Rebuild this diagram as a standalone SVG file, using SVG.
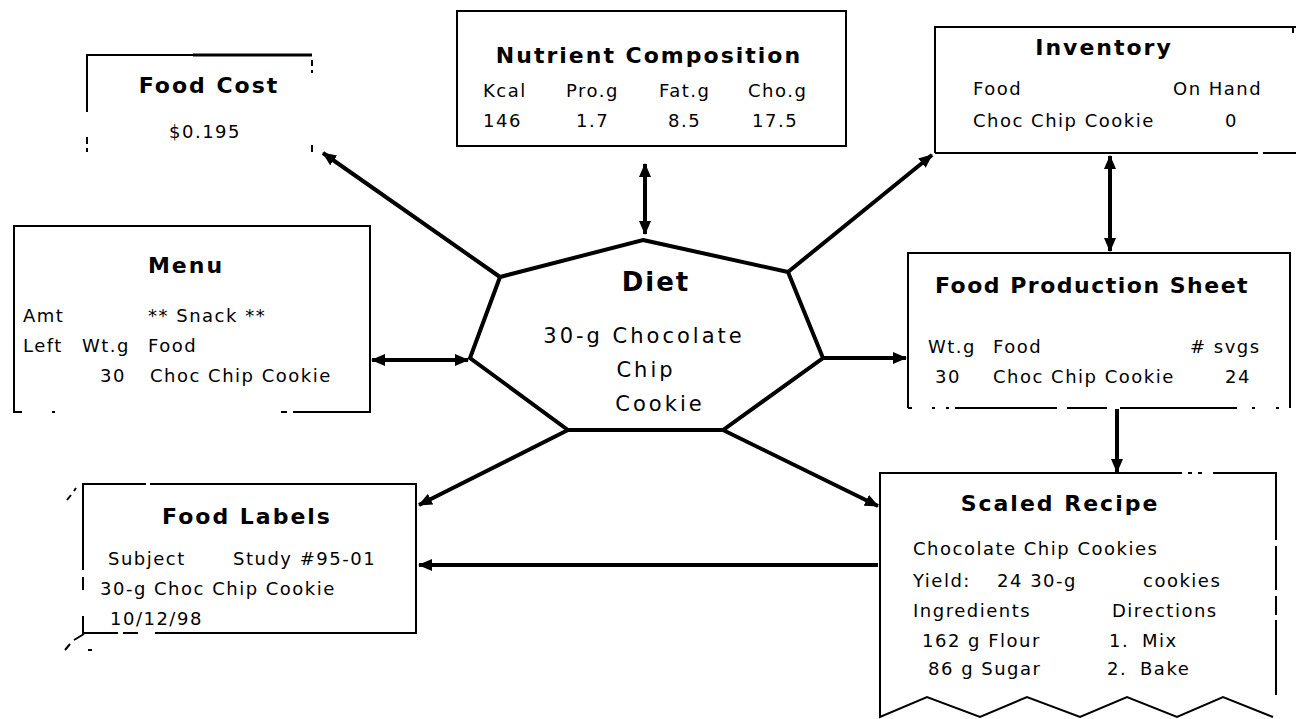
<svg xmlns="http://www.w3.org/2000/svg" width="1299" height="719" viewBox="0 0 1299 719">
<style>
.bg{fill:#fff}
.box{fill:none;stroke:#000;stroke-width:2}
.thick{fill:none;stroke:#000;stroke-width:3}
.title{font-family:"DejaVu Sans","Liberation Sans",sans-serif;font-weight:bold;font-size:22px;letter-spacing:2px;fill:#000}
.body{font-family:"DejaVu Sans","Liberation Sans",sans-serif;font-size:18px;letter-spacing:1.5px;fill:#000}
.mid{text-anchor:middle}
.conn{fill:none;stroke:#000;stroke-width:4}
.hept{fill:#fff;stroke:#000;stroke-width:4;stroke-linejoin:miter}
</style>
<defs>
<marker id="ah" markerUnits="userSpaceOnUse" markerWidth="14" markerHeight="12" refX="13" refY="6" orient="auto-start-reverse">
<path d="M0,0 L14,6 L0,12 z" fill="#000"/>
</marker>
</defs>
<rect class="bg" x="0" y="0" width="1299" height="719"/>

<g id="connectors">
<line class="conn" x1="500" y1="277" x2="323" y2="153" marker-end="url(#ah)"/>
<line class="conn" x1="645" y1="164" x2="645" y2="234" marker-start="url(#ah)" marker-end="url(#ah)"/>
<line class="conn" x1="788" y1="272" x2="932" y2="155" marker-end="url(#ah)"/>
<line class="conn" x1="1110" y1="156" x2="1110" y2="251" marker-start="url(#ah)" marker-end="url(#ah)"/>
<line class="conn" x1="372" y1="360" x2="468" y2="360" marker-start="url(#ah)" marker-end="url(#ah)"/>
<line class="conn" x1="823" y1="358" x2="906" y2="358" marker-end="url(#ah)"/>
<line class="conn" x1="568" y1="430" x2="419" y2="505" marker-end="url(#ah)"/>
<line class="conn" x1="723" y1="430" x2="878" y2="506" marker-end="url(#ah)"/>
<line class="conn" x1="1117" y1="409" x2="1117" y2="472" marker-end="url(#ah)"/>
<line class="conn" x1="878" y1="565" x2="419" y2="565" marker-end="url(#ah)"/>
</g>

<g id="diet">
<polygon class="hept" points="643,240 788,272 823,358 723,430 568,430 470,358 500,277"/>
<text class="title mid" x="656" y="291" style="font-size:26px">Diet</text>
<text class="body mid" x="644" y="343" style="font-size:21px;letter-spacing:3px">30-g Chocolate</text>
<text class="body mid" x="646" y="377" style="font-size:21px;letter-spacing:3px">Chip</text>
<text class="body mid" x="660" y="411" style="font-size:21px;letter-spacing:3px">Cookie</text>
</g>

<g id="food-cost">
<path class="box" d="M87,112 V55 H193"/>
<path class="thick" d="M193,55 H312"/>
<path class="box" d="M87,137 V144 M87,148 V152 M312,60 V66 M312,70 V73 M312,145 V152"/>
<text class="title mid" x="209" y="93">Food Cost</text>
<text class="body mid" x="205" y="138">$0.195</text>
</g>

<g id="nutrient-composition">
<rect class="box" x="457" y="11" width="389" height="135"/>
<text class="title mid" x="649" y="63">Nutrient Composition</text>
<text class="body" x="483" y="97">Kcal</text>
<text class="body" x="566" y="97">Pro.g</text>
<text class="body" x="659" y="97">Fat.g</text>
<text class="body" x="748" y="97">Cho.g</text>
<text class="body" x="483" y="127">146</text>
<text class="body" x="576" y="127">1.7</text>
<text class="body" x="668" y="127">8.5</text>
<text class="body" x="752" y="127">17.5</text>
</g>

<g id="inventory">
<path class="box" d="M935,153 V27 H1296 M1293,27 V33 M935,153 H1258 M1263,153 H1296"/>
<text class="title mid" x="1104" y="55">Inventory</text>
<text class="body" x="973" y="95">Food</text>
<text class="body" x="1173" y="95">On Hand</text>
<text class="body" x="973" y="127">Choc Chip Cookie</text>
<text class="body" x="1225" y="127">0</text>
</g>

<g id="menu">
<path class="box" d="M22,412 H14 V226 H370 V412 H293 M287,412 H281 M52,412 H55"/>
<text class="title mid" x="186" y="273">Menu</text>
<text class="body" x="23" y="322">Amt</text>
<text class="body" x="148" y="322">** Snack **</text>
<text class="body" x="23" y="352">Left</text>
<text class="body" x="82" y="352">Wt.g</text>
<text class="body" x="148" y="352">Food</text>
<text class="body" x="100" y="382">30</text>
<text class="body" x="150" y="382">Choc Chip Cookie</text>
</g>

<g id="food-production-sheet">
<path class="box" d="M908,408 V253 H1290 V408 M908,408 H912 M932,408 H935 M946,408 H949 M955,408 H1057 M1067,408 H1107 M1120,408 H1237 M1252,408 H1255 M1276,408 H1279"/>
<text class="title mid" x="1092" y="293" style="letter-spacing:1.5px">Food Production Sheet</text>
<text class="body" x="928" y="353">Wt.g</text>
<text class="body" x="993" y="353">Food</text>
<text class="body" x="1190" y="353"># svgs</text>
<text class="body" x="935" y="383">30</text>
<text class="body" x="993" y="383">Choc Chip Cookie</text>
<text class="body" x="1225" y="383">24</text>
</g>

<g id="food-labels">
<path class="box" d="M83,570 V484 H146 M150,484 H416 V633 H155 M138,633 H123 M118,633 H83 V616 M83,577 V590"/>
<path class="box" d="M67,500 L71,495 M74,491 L76,488 M65,650 L70,644 M74,640 L84,634 M88,650 H92"/>
<text class="title mid" x="247" y="524">Food Labels</text>
<text class="body" x="108" y="565">Subject</text>
<text class="body" x="233" y="565">Study #95-01</text>
<text class="body" x="100" y="595">30-g Choc Chip Cookie</text>
<text class="body" x="110" y="625">10/12/98</text>
</g>

<g id="scaled-recipe">
<path class="box" d="M1182,473 H880 V717 L927,697 L980,717 L1027,697 L1080,717 L1127,697 L1177,717 L1223,697 L1273,717 M1213,473 H1276 V540 M1276,546 V590 M1276,596 V615 M1276,620 V695"/>
<path class="box" d="M1188,473 H1192 M1198,473 H1202"/>
<text class="title mid" x="1060" y="511">Scaled Recipe</text>
<text class="body" x="913" y="555">Chocolate Chip Cookies</text>
<text class="body" x="913" y="587">Yield:</text>
<text class="body" x="997" y="587">24 30-g</text>
<text class="body" x="1143" y="587">cookies</text>
<text class="body" x="913" y="617">Ingredients</text>
<text class="body" x="1112" y="617">Directions</text>
<text class="body" x="922" y="647">162 g Flour</text>
<text class="body" x="1109" y="647">1.</text>
<text class="body" x="1142" y="647">Mix</text>
<text class="body" x="928" y="675">86 g Sugar</text>
<text class="body" x="1107" y="675">2.</text>
<text class="body" x="1140" y="675">Bake</text>
</g>
</svg>
